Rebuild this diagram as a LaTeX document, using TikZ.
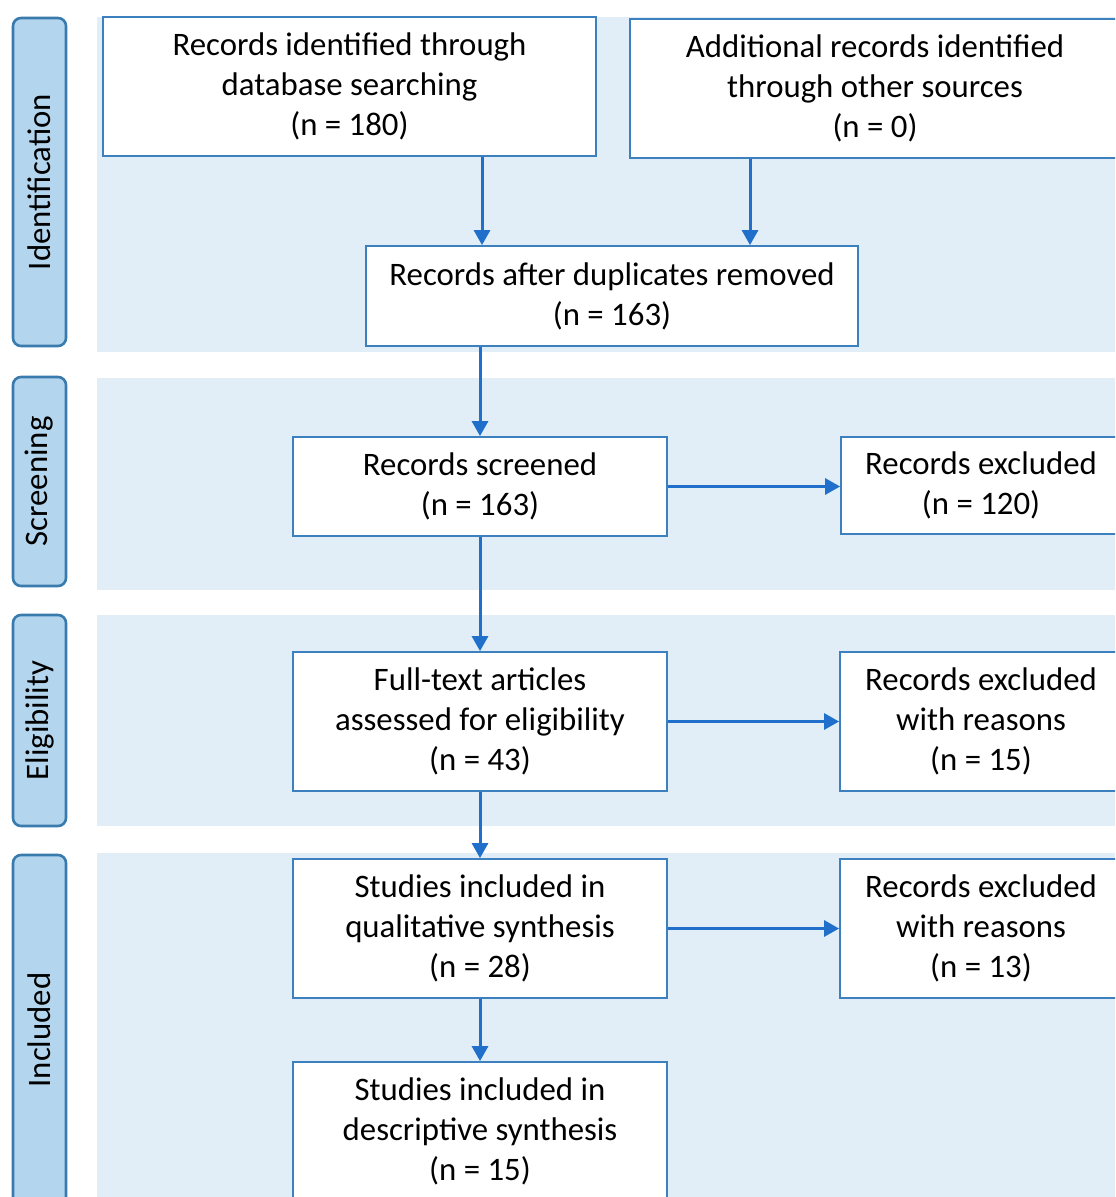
\documentclass[tikz,border=0pt]{standalone}
\usepackage{fontspec}
\setmainfont{Carlito}
\usepackage{tikz}
\usetikzlibrary{arrows.meta}
\definecolor{bandblue}{HTML}{E1EEF8}
\definecolor{tabblue}{HTML}{B3D6EE}
\definecolor{tabline}{HTML}{3A7BAE}
\definecolor{boxline}{HTML}{3C80C0}
\definecolor{arrowblue}{HTML}{1F6FCB}

\begin{document}
\begin{tikzpicture}[x=0.5pt, y=-0.5pt,
    every node/.style={draw=boxline, line width=0.9pt, fill=white, align=center, inner sep=0pt, font=\fontsize{16.4}{20}\selectfont},
    flow/.style={-{Triangle[width=8pt,length=7.5pt]}, line width=1.5pt, draw=arrowblue},
    tab/.style={draw=tabline, line width=1.3pt, fill=tabblue, rounded corners=4pt, minimum height=26.5pt, rotate=90}
]
\useasboundingbox (0,0) rectangle (1115,1197);
\clip (0,0) rectangle (1115,1197);

% ---- BANDS ----
\fill[bandblue] (97,17) rectangle (1115,352);
\fill[bandblue] (97,378) rectangle (1115,590);
\fill[bandblue] (97,615) rectangle (1115,826);
\fill[bandblue] (97,853) rectangle (1115,1197);

% ---- SIDE TABS ----
\node[tab, minimum width=164pt] (tid) at (39.5,182) {Identification};
\node[tab, minimum width=104.5pt] (tsc) at (39.5,481.5) {Screening};
\node[tab, minimum width=105.5pt] (tel) at (39.5,720.5) {Eligibility};
\node[tab, minimum width=175pt] (tin) at (39.5,1030) {Included};

% ---- IDENTIFICATION ----
\node[minimum width=246.5pt, minimum height=69.5pt] (db) at (349.5,86.5) {Records identified through\\ database searching\\ (n = 180)};
\node[minimum width=245pt, minimum height=69.5pt] (other) at (875,88.5) {Additional records identified\\ through other sources\\ (n = 0)};
\node[minimum width=246pt, minimum height=50pt] (dup) at (612,296) {Records after duplicates removed\\ (n = 163)};
\coordinate (xl) at (482,0);
\coordinate (xr) at (750,0);
\draw[flow] (db.south -| xl) -- (dup.north -| xl);
\draw[flow] (other.south -| xr) -- (dup.north -| xr);

% ---- SCREENING ----
\node[minimum width=187pt, minimum height=49.5pt] (scr) at (480,486.5) {Records screened\\ (n = 163)};
\node[minimum width=140pt, minimum height=48.5pt] (exc1) at (981,485.5) {Records excluded\\ (n = 120)};
\draw[flow] (dup.south -| scr.north) -- (scr.north);
\draw[flow] (scr.east) -- (exc1.west |- scr.east);

% ---- ELIGIBILITY ----
\node[minimum width=187pt, minimum height=69.5pt] (full) at (480,721.5) {Full-text articles\\ assessed for eligibility\\ (n = 43)};
\node[minimum width=141pt, minimum height=69.5pt] (exc2) at (981,721.5) {Records excluded\\ with reasons\\ (n = 15)};
\draw[flow] (scr.south) -- (full.north);
\draw[flow] (full.east) -- (exc2.west);

% ---- INCLUDED ----
\node[minimum width=187pt, minimum height=69.5pt] (qual) at (480,928.5) {Studies included in\\ qualitative synthesis\\ (n = 28)};
\node[minimum width=141pt, minimum height=69.5pt] (exc3) at (981,928.5) {Records excluded\\ with reasons\\ (n = 13)};
\node[minimum width=187pt, minimum height=69.5pt] (desc) at (480,1131.5) {Studies included in\\ descriptive synthesis\\ (n = 15)};
\draw[flow] (full.south) -- (qual.north);
\draw[flow] (qual.east) -- (exc3.west);
\draw[flow] (qual.south) -- (desc.north);
\end{tikzpicture}
\end{document}
